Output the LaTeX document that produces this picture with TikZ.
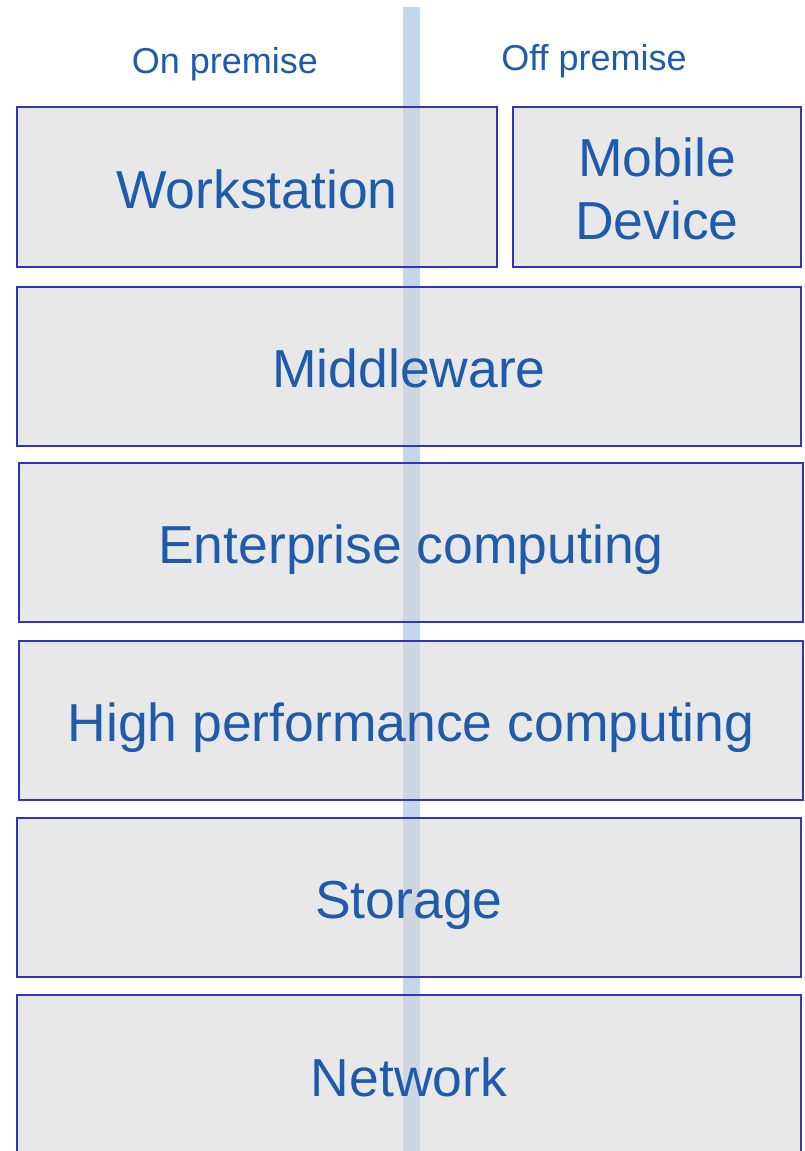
\documentclass[tikz,border=0pt]{standalone}
\usepackage{fontspec}
\setmainfont{Liberation Sans}
\definecolor{txtblue}{RGB}{31,91,171}
\definecolor{edgeblue}{RGB}{51,51,187}
\definecolor{boxgray}{RGB}{215,215,215}
\definecolor{barblue}{RGB}{196,214,234}
\begin{document}
\begin{tikzpicture}[x=1pt,y=-1pt,
  layer/.style={draw=edgeblue, line width=1.6pt, fill=boxgray, fill opacity=0.57,
    text opacity=1, text=txtblue, inner sep=0pt, align=center,
    font=\fontsize{53.5}{63.5}\selectfont},
  oneline/.style={layer, text height=42pt, text depth=0pt},
  side/.style={text=txtblue, font=\fontsize{36}{42}\selectfont, inner sep=0pt, anchor=base}]
  \useasboundingbox (0,0) rectangle (804,1151);
  \clip (0,0) rectangle (804,1151);
  % divider between the two sides
  \fill[barblue] (403,7) rectangle (420,1151);
  % column headings
  \node[side] (on) at (225,73) {On premise};
  \node[side] (off) at (594,70.7) {Off premise};
  % stacked layers
  \node[oneline, minimum width=480pt, minimum height=160pt] (ws) at (257,187) {Workstation};
  \node[layer, minimum width=288pt, minimum height=160pt] (mob) at (657,187) {\rule{0pt}{43pt}Mobile\\Device};
  \node[oneline, minimum width=784pt, minimum height=159pt] (mid) at (409,366.5) {Middleware};
  \node[oneline, minimum width=784pt, minimum height=159pt] (ent) at (411,542.5) {Enterprise computing};
  \node[oneline, minimum width=784pt, minimum height=159pt] (hpc) at (411,720.5) {High performance computing};
  \node[oneline, minimum width=784pt, minimum height=159pt] (sto) at (409,897.5) {Storage};
  \node[oneline, minimum width=784pt, minimum height=160pt] (net) at (409,1075) {Network};
\end{tikzpicture}
\end{document}
